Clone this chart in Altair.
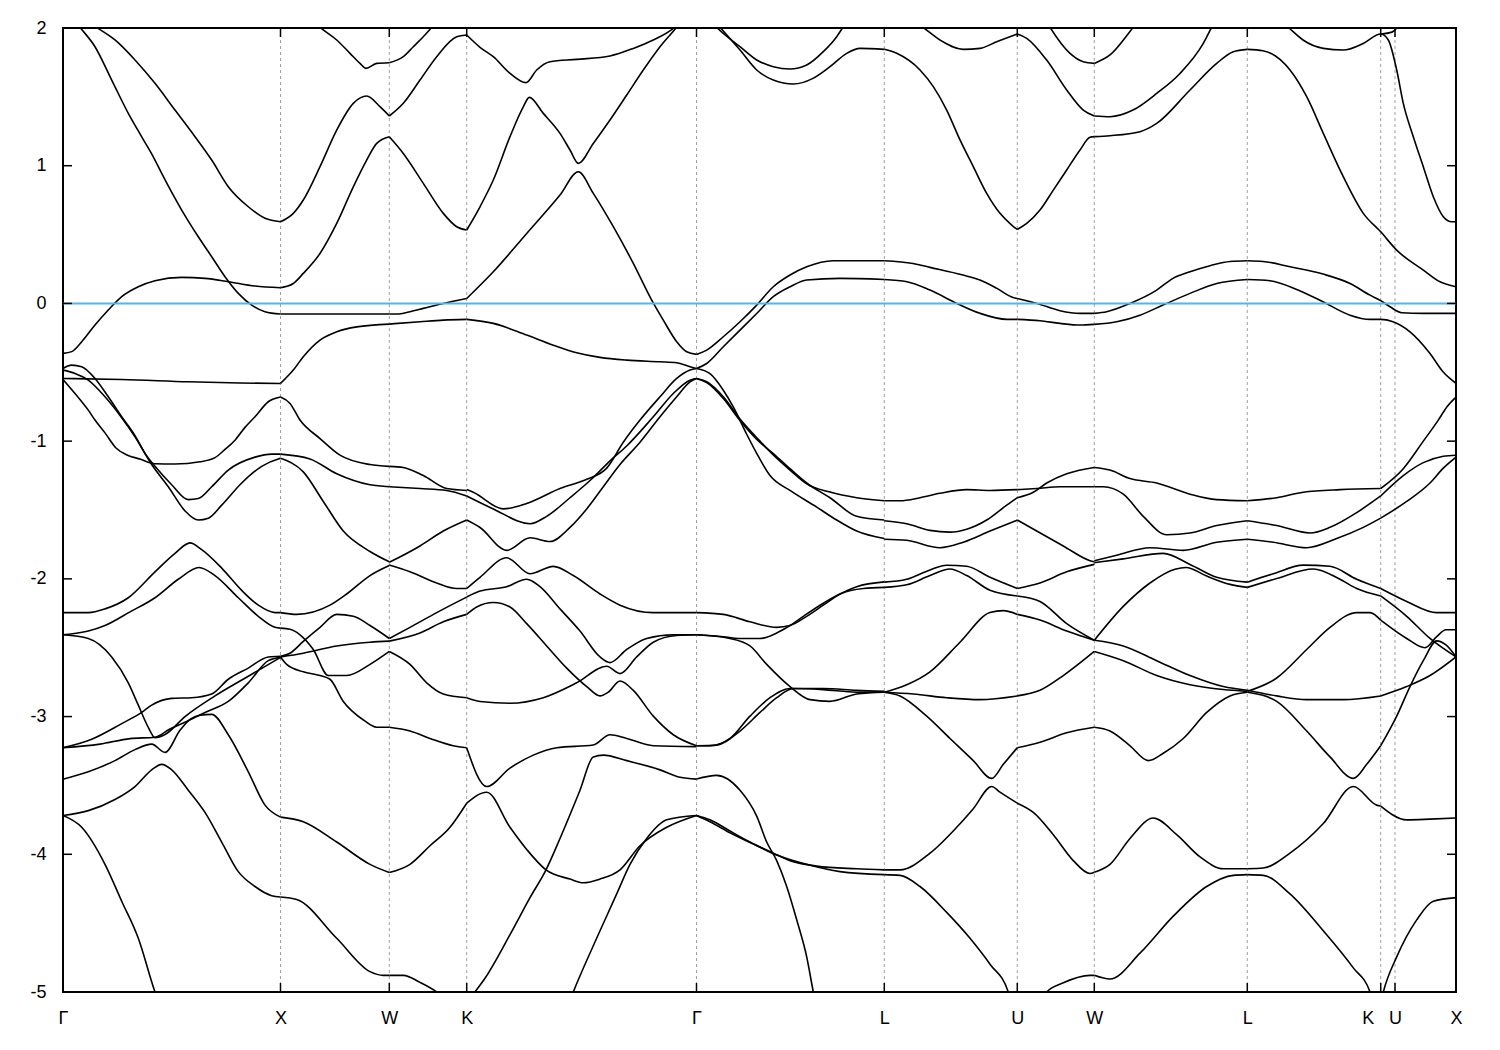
import altair as alt
import pandas as pd

# High-symmetry points along the k-path (path coordinate) and their names
hs_k = [63, 280.5, 389.3, 466.7, 696.5, 884.3, 1017.3, 1094.3, 1247.3, 1380.7, 1395, 1456]
hs_names = ["Γ", "X", "W", "K", "Γ", "L", "U", "W", "L", "K", "U", "X"]
energy_ticks = [-5, -4, -3, -2, -1, 0, 1, 2]
fermi_level = [0.0]

# Band curves (k, E in eV), grouped per path segment
seg_gamma_x = [
    [(63, 2.16), (72, 2.08), (80, 2.005), (95, 1.864), (111.7, 1.622), (128.3, 1.38), (141.7, 1.21), (153.3, 1.065), (161.7, 0.944), (181.7, 0.678), (198.3, 0.484), (211.7, 0.339), (225, 0.194), (238.3, 0.073), (251.7, -0.012), (265, -0.06), (280.5, -0.077)],
    [(63, 2.2), (80, 2.1), (96.7, 2.005), (115, 1.913), (135, 1.768), (155, 1.598), (175, 1.404), (195, 1.211), (211.7, 1.041), (228.3, 0.848), (248.3, 0.702), (265, 0.618), (280.5, 0.593)],
    [(63, -0.363), (71.7, -0.35), (81.7, -0.278), (95, -0.157), (108.3, -0.048), (121.7, 0.049), (138.3, 0.121), (155, 0.165), (181.7, 0.189), (205, 0.182), (228.3, 0.158), (255, 0.126), (280.5, 0.114)],
    [(63, -0.545), (121.7, -0.552), (188.3, -0.569), (240, -0.578), (280.5, -0.581)],
    [(63, -0.552), (75, -0.654), (88.3, -0.775), (95, -0.847), (105, -0.94), (116, -1.05), (127, -1.1), (140, -1.13), (155, -1.164), (175, -1.166), (200, -1.15), (215, -1.12), (225, -1.06), (235, -0.993), (245, -0.9), (255, -0.823), (268.3, -0.714), (280.5, -0.68)],
    [(63, -0.472), (71.7, -0.448), (81.7, -0.46), (95, -0.545), (108.3, -0.678), (121.7, -0.823), (135, -0.96), (145, -1.09), (155, -1.183), (171.7, -1.317), (188.3, -1.425), (198.3, -1.417), (211.7, -1.331), (228.3, -1.21), (255, -1.116), (271.7, -1.094), (280.5, -1.094)],
    [(63, -0.484), (75, -0.508), (88.3, -0.557), (105, -0.678), (121.7, -0.83), (135, -0.968), (151.7, -1.17), (168.3, -1.331), (185, -1.506), (198.3, -1.573), (208.3, -1.56), (221.7, -1.465), (241.7, -1.304), (261.7, -1.183), (278.3, -1.129), (280.5, -1.125)],
    [(63, -2.245), (88.3, -2.245), (105, -2.218), (128.3, -2.137), (155, -1.949), (175, -1.815), (190, -1.739), (201.7, -1.788), (221.7, -1.922), (241.7, -2.084), (258.3, -2.191), (275, -2.245), (280.5, -2.245)],
    [(63, -2.406), (88.3, -2.379), (105, -2.339), (130, -2.24), (155, -2.137), (178.3, -2.003), (199, -1.917), (215, -1.976), (238.3, -2.137), (258.3, -2.272), (275, -2.352), (280.5, -2.358)],
    [(63, -2.406), (88.3, -2.433), (111.7, -2.567), (128.3, -2.755), (138.3, -2.917), (148.3, -3.078), (155, -3.153), (165, -3.13), (185, -3.0), (215, -2.85), (250, -2.7), (280.5, -2.57)],
    [(63, -3.226), (91.7, -3.164), (121.7, -3.051), (141.7, -2.97), (151.7, -2.917), (171.7, -2.868), (191.7, -2.863), (211.7, -2.836), (228.3, -2.729), (248.3, -2.648), (268.3, -2.567), (280.5, -2.562)],
    [(63, -3.226), (100, -3.2), (130, -3.16), (155, -3.15), (170, -3.09), (188.3, -3.03), (205, -2.97), (228.3, -2.89), (248.3, -2.755), (268.3, -2.594), (280.5, -2.57)],
    [(63, -3.455), (88.3, -3.401), (115, -3.32), (135, -3.24), (151.7, -3.2), (165, -3.26), (180, -3.1), (190, -3.02), (200, -2.99), (211.7, -2.984), (228.3, -3.132), (248.3, -3.401), (265, -3.643), (280.5, -3.73)],
    [(63, -3.718), (81.7, -3.804), (105, -4.073), (121.7, -4.341), (138.3, -4.61), (155, -5.0), (160, -5.1)],
    [(63, -3.718), (88.3, -3.683), (115, -3.602), (135, -3.508), (151.7, -3.387), (161.7, -3.347), (171.7, -3.387), (188.3, -3.535), (205, -3.696), (221.7, -3.911), (238.3, -4.126), (255, -4.234), (271.7, -4.301), (280.5, -4.31)],
]

seg_x_w = [
    [(280.5, 2.3), (300, 2.15), (320, 2.005), (336.7, 1.913), (350, 1.816), (360, 1.743), (366, 1.707), (376.7, 1.743), (389.3, 1.748)],
    [(280.5, 0.593), (293.3, 0.654), (303.3, 0.751), (320, 0.993), (336.7, 1.259), (353.3, 1.453), (366.7, 1.506), (380, 1.429), (389.3, 1.361)],
    [(280.5, 0.114), (293.3, 0.145), (303.3, 0.218), (320, 0.363), (336.7, 0.581), (353.3, 0.847), (366.7, 1.041), (376.7, 1.162), (389.3, 1.21)],
    [(280.5, -0.077), (389.3, -0.077)],
    [(280.5, -0.581), (293.3, -0.484), (303.3, -0.387), (320, -0.266), (336.7, -0.206), (356.7, -0.17), (389.3, -0.15)],
    [(280.5, -0.68), (290, -0.726), (300, -0.847), (320, -0.981), (340, -1.102), (370, -1.17), (389.3, -1.183)],
    [(280.5, -1.094), (310, -1.129), (336.7, -1.237), (370, -1.317), (389.3, -1.331)],
    [(280.5, -1.125), (303.3, -1.223), (323.3, -1.438), (343.3, -1.653), (370, -1.801), (389.3, -1.876)],
    [(280.5, -2.245), (296.7, -2.258), (330, -2.191), (346.7, -2.11), (370, -1.976), (389.3, -1.903)],
    [(280.5, -2.358), (290, -2.366), (300, -2.406), (313.3, -2.513), (328.3, -2.702), (346.7, -2.702), (370, -2.621), (389.3, -2.527)],
    [(280.5, -2.562), (290, -2.54), (303.3, -2.454), (320, -2.352), (336.7, -2.258), (353.3, -2.272), (370, -2.339), (389.3, -2.433)],
    [(280.5, -2.567), (303.3, -2.54), (336.7, -2.487), (370, -2.46), (389.3, -2.452)],
    [(280.5, -2.567), (286.7, -2.621), (303.3, -2.675), (320, -2.702), (330, -2.729), (343.3, -2.89), (363.3, -3.024), (376.7, -3.078), (389.3, -3.078)],
    [(280.5, -3.73), (303.3, -3.763), (336.7, -3.911), (370, -4.073), (389.3, -4.132)],
    [(280.5, -4.31), (296.7, -4.328), (336.7, -4.61), (370, -4.852), (383.3, -4.879), (389.3, -4.879)],
]

seg_w_k = [
    [(389.3, 1.748), (403.3, 1.792), (413.3, 1.864), (423.3, 1.937), (431.7, 2.005), (445, 2.15), (466.7, 2.3)],
    [(389.3, 1.361), (403.3, 1.453), (420, 1.622), (436.7, 1.792), (456.7, 1.937), (466.7, 1.949)],
    [(389.3, 1.21), (403.3, 1.089), (423.3, 0.872), (443.3, 0.654), (456.7, 0.557), (466.7, 0.533)],
    [(389.3, -0.077), (396.7, -0.077), (410, -0.06), (423.3, -0.036), (443.3, 0.0), (466.7, 0.036)],
    [(389.3, -0.15), (420, -0.133), (443.3, -0.121), (466.7, -0.116)],
    [(389.3, -1.183), (403.3, -1.191), (423.3, -1.25), (446.7, -1.344), (466.7, -1.358)],
    [(389.3, -1.331), (420, -1.344), (446.7, -1.358), (466.7, -1.398)],
    [(389.3, -1.88), (420, -1.761), (443.3, -1.653), (466.7, -1.573)],
    [(389.3, -1.9), (410, -1.949), (436.7, -2.03), (456.7, -2.07), (466.7, -2.07)],
    [(389.3, -2.433), (410, -2.352), (436.7, -2.245), (466.7, -2.132)],
    [(389.3, -2.452), (420, -2.393), (443.3, -2.312), (466.7, -2.258)],
    [(389.3, -2.527), (410, -2.621), (426.7, -2.755), (443.3, -2.836), (466.7, -2.863)],
    [(389.3, -3.078), (410, -3.105), (430, -3.159), (453.3, -3.212), (466.7, -3.226)],
    [(389.3, -4.132), (410, -4.073), (430, -3.938), (450, -3.804), (466.7, -3.629)],
    [(389.3, -4.879), (403.3, -4.879), (420, -4.93), (436.7, -5.0), (445, -5.05)],
]

seg_k_gamma = [
    [(466.7, 1.949), (480, 1.86), (493.3, 1.792), (510, 1.671), (526, 1.603), (536.7, 1.695), (550, 1.755), (576.7, 1.772), (610, 1.797), (633.3, 1.852), (653.3, 1.913), (673.3, 1.997), (685, 2.08), (696.5, 2.2)],
    [(466.7, 0.533), (480, 0.702), (493.3, 0.896), (510, 1.211), (523.3, 1.428), (529.3, 1.496), (543.3, 1.38), (560, 1.235), (570, 1.114), (578.3, 1.017), (593.3, 1.162), (610, 1.332), (626.7, 1.513), (643.3, 1.695), (660, 1.864), (676, 2.0), (696.5, 2.2)],
    [(466.7, 0.036), (493.3, 0.23), (526.7, 0.508), (560, 0.787), (578.3, 0.956), (593.3, 0.799), (613.3, 0.557), (633.3, 0.291), (651.7, 0.024), (663.3, -0.121), (676.7, -0.278), (686.7, -0.351), (696.5, -0.37)],
    [(466.7, -0.116), (493.3, -0.145), (526.7, -0.23), (553.3, -0.303), (576.7, -0.358), (600, -0.392), (626.7, -0.412), (660, -0.424), (676.7, -0.431), (690, -0.46), (696.5, -0.472)],
    [(466.7, -1.352), (473.3, -1.371), (503.3, -1.492), (526.7, -1.452), (560, -1.344), (586.7, -1.277), (606.7, -1.196), (623.3, -1.008), (640, -0.847), (660, -0.678), (676.7, -0.545), (690, -0.484), (696.5, -0.472)],
    [(466.7, -1.398), (493.3, -1.492), (530, -1.6), (546.7, -1.546), (570, -1.411), (593.3, -1.264), (610, -1.143), (626.7, -1.035), (653.3, -0.823), (673.3, -0.654), (690, -0.557), (696.5, -0.545)],
    [(466.7, -1.573), (480, -1.627), (506.7, -1.793), (530, -1.702), (550, -1.729), (570, -1.626), (586.7, -1.492), (603.3, -1.331), (620, -1.17), (640, -1.008), (660, -0.823), (676.7, -0.678), (690, -0.569), (696.5, -0.545)],
    [(466.7, -2.07), (480, -1.989), (506.7, -1.847), (530, -1.963), (553.3, -1.909), (573.3, -1.976), (600, -2.11), (620, -2.191), (653.3, -2.245), (696.5, -2.245)],
    [(466.7, -2.132), (480, -2.089), (506.7, -2.057), (526.7, -2.003), (540, -2.057), (560, -2.218), (580, -2.379), (600, -2.567), (610, -2.608), (626.7, -2.513), (646.7, -2.433), (673.3, -2.406), (696.5, -2.406)],
    [(466.7, -2.258), (476.7, -2.204), (493.3, -2.172), (510, -2.204), (526.7, -2.325), (546.7, -2.487), (566.7, -2.648), (586.7, -2.782), (600, -2.85), (608.3, -2.823), (620, -2.742), (633.3, -2.81), (653.3, -2.997), (673.3, -3.132), (696.5, -3.212)],
    [(466.7, -2.863), (480, -2.89), (510, -2.903), (543.3, -2.863), (576.7, -2.755), (606.7, -2.635), (620, -2.688), (636.7, -2.567), (653.3, -2.46), (676.7, -2.411), (696.5, -2.406)],
    [(466.7, -3.226), (486.7, -3.508), (510, -3.374), (533.3, -3.28), (556.7, -3.226), (593.3, -3.207), (610, -3.132), (626.7, -3.159), (653.3, -3.212), (696.5, -3.218)],
    [(466.7, -3.629), (486.7, -3.549), (510, -3.804), (526.7, -3.965), (546, -4.113), (570, -4.18), (583.3, -4.207), (600, -4.18), (620, -4.113), (640, -3.938), (666.7, -3.804), (696.5, -3.718)],
    [(466, -5.1), (475, -5.0), (485, -4.9), (510, -4.583), (530, -4.315), (546, -4.113), (560, -3.885), (580, -3.535), (593.3, -3.293), (603.3, -3.28), (626.7, -3.32), (660, -3.387), (680, -3.441), (696.5, -3.454)],
    [(568, -5.1), (573.3, -5.0), (593.3, -4.664), (616.7, -4.288), (630, -4.073), (646.7, -3.885), (666.7, -3.75), (696.5, -3.718)],
]

seg_gamma_l = [
    [(696.5, 2.2), (705, 2.1), (716.7, 2.005), (740, 1.864), (756.7, 1.768), (773.3, 1.719), (790, 1.702), (806.7, 1.731), (823.3, 1.828), (836.7, 1.937), (843, 2.005), (860, 2.15), (884.3, 2.25)],
    [(696.5, 2.2), (708, 2.1), (720, 2.005), (740, 1.84), (756.7, 1.695), (773.3, 1.622), (793.3, 1.593), (813, 1.634), (830, 1.719), (846.7, 1.816), (860, 1.852), (884.3, 1.845)],
    [(696.5, -0.37), (706.7, -0.339), (723.3, -0.242), (740, -0.133), (756.7, -0.012), (773.3, 0.121), (790, 0.206), (806.7, 0.266), (833.3, 0.31), (884.3, 0.31)],
    [(696.5, -0.472), (706.7, -0.436), (723.3, -0.315), (740, -0.194), (756.7, -0.073), (773.3, 0.049), (790, 0.121), (806.7, 0.17), (840, 0.182), (884.3, 0.174)],
    [(696.5, -0.472), (710, -0.51), (723.3, -0.63), (733.3, -0.751), (746.7, -0.95), (756.7, -1.089), (770, -1.25), (790, -1.358), (816.7, -1.479), (836.7, -1.573), (856.7, -1.653), (884.3, -1.707)],
    [(696.5, -0.545), (706.7, -0.569), (723.3, -0.678), (740, -0.84), (760, -1.0), (773.3, -1.1), (790, -1.21), (806.7, -1.31), (830, -1.37), (856.7, -1.411), (884.3, -1.433)],
    [(696.5, -0.545), (706.7, -0.575), (723.3, -0.69), (740, -0.85), (760, -1.01), (773.3, -1.09), (790, -1.2), (806.7, -1.304), (830, -1.411), (856.7, -1.546), (884.3, -1.573)],
    [(696.5, -2.245), (723.3, -2.258), (750, -2.312), (776.7, -2.352), (790, -2.339), (806.7, -2.272), (823.3, -2.191), (840, -2.11), (856.7, -2.057), (884.3, -2.022)],
    [(696.5, -2.406), (723.3, -2.42), (740, -2.433), (760, -2.433), (776.7, -2.393), (790, -2.339), (803.3, -2.272), (823.3, -2.177), (840, -2.11), (863.3, -2.07), (884.3, -2.062)],
    [(696.5, -2.406), (730, -2.433), (750, -2.487), (766.7, -2.621), (790, -2.782), (810, -2.877), (830, -2.89), (856.7, -2.836), (884.3, -2.823)],
    [(696.5, -3.212), (710, -3.212), (730, -3.159), (750, -2.997), (770, -2.863), (790, -2.796), (823.3, -2.804), (856.7, -2.823), (884.3, -2.823)],
    [(696.5, -3.212), (716.7, -3.207), (740, -3.105), (760, -2.97), (776.7, -2.863), (793.3, -2.796), (823.3, -2.796), (856.7, -2.81), (884.3, -2.817)],
    [(696.5, -3.454), (716.7, -3.427), (740, -3.535), (756.7, -3.723), (766.7, -3.911), (776.7, -4.046), (786.7, -4.234), (796.7, -4.476), (806.7, -4.745), (813.3, -5.0), (816, -5.1)],
    [(696.5, -3.718), (710, -3.75), (730, -3.831), (750, -3.911), (773.3, -3.992), (790, -4.046), (816.7, -4.086), (856.7, -4.105), (884.3, -4.113)],
    [(696.5, -3.718), (710, -3.764), (730, -3.844), (756.7, -3.938), (776.7, -4.005), (806.7, -4.073), (840, -4.126), (884.3, -4.148)],
]

seg_l_u = [
    [(884.3, 1.845), (896.7, 1.816), (920, 1.695), (933.3, 1.574), (946.7, 1.404), (960, 1.187), (973.3, 0.993), (986.7, 0.799), (1000, 0.654), (1011.7, 0.569), (1017.3, 0.537)],
    [(884.3, 2.25), (905, 2.1), (923, 2.005), (940, 1.913), (963.3, 1.845), (980, 1.852), (996.7, 1.9), (1017.3, 1.956)],
    [(884.3, 0.31), (913, 0.29), (930, 0.262), (963, 0.206), (980, 0.17), (997, 0.109), (1013, 0.043), (1017.3, 0.036)],
    [(884.3, 0.174), (907, 0.158), (930, 0.097), (957, 0.0), (980, -0.072), (1007, -0.116), (1017.3, -0.116)],
    [(884.3, -1.433), (900, -1.433), (920, -1.411), (940, -1.379), (966.7, -1.352), (990, -1.358), (1017.3, -1.352)],
    [(884.3, -1.578), (906.7, -1.6), (930, -1.648), (950, -1.661), (966.7, -1.64), (986.7, -1.573), (1006.7, -1.465), (1017.3, -1.411)],
    [(884.3, -1.712), (906.7, -1.72), (940, -1.774), (963.3, -1.734), (990, -1.653), (1017.3, -1.573)],
    [(884.3, -2.024), (906.7, -2.003), (930, -1.935), (946.7, -1.901), (966.7, -1.909), (990, -1.989), (1017.3, -2.07)],
    [(884.3, -2.062), (906.7, -2.043), (930, -1.976), (950, -1.928), (966.7, -1.976), (990, -2.083), (1017.3, -2.124)],
    [(884.3, -2.823), (906.7, -2.769), (930, -2.675), (960, -2.46), (990, -2.245), (1003.3, -2.231), (1017.3, -2.258)],
    [(884.3, -2.823), (913.3, -2.836), (946.7, -2.863), (980, -2.877), (1017.3, -2.85)],
    [(884.3, -2.823), (900, -2.85), (926.7, -2.997), (950, -3.159), (973.3, -3.32), (991.7, -3.449), (1003.3, -3.347), (1017.3, -3.226)],
    [(884.3, -4.113), (900, -4.113), (930, -3.992), (956.7, -3.804), (973.3, -3.669), (991.7, -3.508), (1000, -3.549), (1017.3, -3.629)],
    [(884.3, -4.148), (900, -4.153), (920, -4.234), (946.7, -4.422), (970, -4.61), (990, -4.798), (1008.3, -5.0), (1012, -5.1)],
]

seg_u_w = [
    [(1017.3, 0.537), (1026.7, 0.581), (1040, 0.678), (1053.3, 0.823), (1066.7, 0.969), (1080, 1.114), (1090, 1.206), (1094.3, 1.211)],
    [(1017.3, 1.956), (1026.7, 1.925), (1046.7, 1.767), (1066.7, 1.55), (1083.3, 1.404), (1094.3, 1.361)],
    [(1017.3, 2.35), (1035, 2.2), (1050, 2.005), (1070, 1.816), (1083.3, 1.755), (1094.3, 1.743)],
    [(1017.3, 0.036), (1037, 0.0), (1060, -0.053), (1080, -0.072), (1094.3, -0.072)],
    [(1017.3, -0.116), (1040, -0.126), (1060, -0.145), (1080, -0.157), (1094.3, -0.152)],
    [(1017.3, -1.352), (1036.7, -1.344), (1060, -1.331), (1094.3, -1.331)],
    [(1017.3, -1.411), (1033.3, -1.371), (1046.7, -1.304), (1066.7, -1.237), (1094.3, -1.191)],
    [(1017.3, -1.573), (1036.7, -1.653), (1063.3, -1.761), (1090, -1.868), (1094.3, -1.876)],
    [(1017.3, -2.07), (1040, -2.03), (1066.7, -1.949), (1094.3, -1.895)],
    [(1017.3, -2.124), (1040, -2.164), (1066.7, -2.325), (1094.3, -2.446)],
    [(1017.3, -2.258), (1040, -2.299), (1066.7, -2.379), (1094.3, -2.446)],
    [(1017.3, -2.85), (1040, -2.809), (1063.3, -2.702), (1094.3, -2.527)],
    [(1017.3, -3.226), (1040, -3.186), (1066.7, -3.118), (1094.3, -3.078)],
    [(1017.3, -3.629), (1033.3, -3.696), (1053.3, -3.858), (1073.3, -4.046), (1090, -4.14), (1094.3, -4.13)],
    [(1040, -5.1), (1046.7, -5.0), (1063.3, -4.933), (1090, -4.879), (1094.3, -4.879)],
]

seg_w_l = [
    [(1094.3, 1.743), (1110, 1.804), (1133.3, 2.005), (1160, 2.25)],
    [(1094.3, 1.361), (1110, 1.356), (1133, 1.404), (1156.7, 1.525), (1180, 1.67), (1203.3, 1.888), (1211.7, 2.005), (1230, 2.2)],
    [(1094.3, 1.211), (1110, 1.218), (1140, 1.247), (1156.7, 1.307), (1190, 1.55), (1216.7, 1.743), (1233.3, 1.828), (1247.3, 1.845)],
    [(1094.3, -0.072), (1106.7, -0.06), (1130, 0.0), (1156.7, 0.097), (1173, 0.182), (1190, 0.23), (1210, 0.274), (1230, 0.305), (1247.3, 0.31)],
    [(1094.3, -0.152), (1116.7, -0.133), (1140, -0.085), (1163, -0.012), (1190, 0.073), (1216.7, 0.145), (1247.3, 0.174)],
    [(1094.3, -1.191), (1110, -1.21), (1130, -1.272), (1156.7, -1.304), (1190, -1.385), (1216.7, -1.425), (1247.3, -1.433)],
    [(1094.3, -1.331), (1103.3, -1.331), (1123.3, -1.385), (1143.3, -1.546), (1166.7, -1.68), (1190, -1.667), (1216.7, -1.613), (1247.3, -1.578)],
    [(1094.3, -1.868), (1116.7, -1.828), (1150, -1.774), (1183.3, -1.793), (1216.7, -1.734), (1247.3, -1.712)],
    [(1094.3, -1.882), (1123.3, -1.855), (1163.3, -1.815), (1190, -1.895), (1216.7, -1.989), (1247.3, -2.024)],
    [(1094.3, -2.446), (1123.3, -2.2), (1150, -2.03), (1175, -1.93), (1186, -1.917), (1206.7, -1.98), (1230, -2.04), (1247.3, -2.062)],
    [(1094.3, -2.446), (1123.3, -2.487), (1156.7, -2.594), (1190, -2.702), (1223.3, -2.782), (1247.3, -2.809)],
    [(1094.3, -2.527), (1123.3, -2.594), (1156.7, -2.702), (1190, -2.769), (1223.3, -2.804), (1247.3, -2.817)],
    [(1094.3, -3.078), (1110, -3.105), (1130, -3.212), (1148.3, -3.32), (1163.3, -3.266), (1183.3, -3.159), (1206.7, -2.97), (1230, -2.85), (1247.3, -2.823)],
    [(1094.3, -4.13), (1110, -4.073), (1130, -3.885), (1153.3, -3.737), (1176.7, -3.858), (1200, -4.019), (1223.3, -4.105), (1247.3, -4.105)],
    [(1094.3, -4.879), (1110, -4.906), (1140, -4.718), (1173.3, -4.449), (1206.7, -4.234), (1233.3, -4.153), (1247.3, -4.148)],
]

seg_l_x_upper = [
    [(1247.3, 1.845), (1263, 1.835), (1290, 1.695), (1306.7, 1.501), (1323.3, 1.235), (1343.3, 0.92), (1363.3, 0.654), (1380.7, 0.52), (1396.7, 0.387), (1423.3, 0.242), (1440, 0.157), (1456, 0.121)],
    [(1247.3, 2.3), (1270, 2.12), (1288.3, 2.005), (1303, 1.913), (1323.3, 1.852), (1343.3, 1.84), (1363.3, 1.888), (1380.7, 1.956), (1388.3, 1.913), (1396.7, 1.695), (1403.3, 1.453), (1413.3, 1.211), (1423.3, 0.993), (1433.3, 0.775), (1443.3, 0.63), (1451.7, 0.593), (1456, 0.593)],
    [(1380.7, 1.956), (1392, 1.97), (1402, 2.05)],
    [(1247.3, 0.31), (1263, 0.305), (1290, 0.266), (1323, 0.213), (1350, 0.145), (1370, 0.06), (1380.7, 0.02), (1390, -0.024), (1401.7, -0.068), (1423, -0.072), (1456, -0.072)],
    [(1247.3, 0.174), (1270, 0.165), (1296.7, 0.102), (1323, 0.012), (1350, -0.085), (1370, -0.116), (1380.7, -0.116), (1393, -0.133), (1410, -0.206), (1430, -0.363), (1443, -0.496), (1456, -0.58)],
]

seg_l_k = [
    [(1247.3, -1.433), (1276.7, -1.411), (1303.3, -1.371), (1340, -1.352), (1380.7, -1.344)],
    [(1247.3, -1.578), (1276.7, -1.613), (1310, -1.667), (1330, -1.626), (1356.7, -1.519), (1380.7, -1.398)],
    [(1247.3, -1.712), (1273.3, -1.734), (1306.7, -1.774), (1336.7, -1.707), (1363.3, -1.626), (1380.7, -1.559)],
    [(1247.3, -2.024), (1273.3, -1.963), (1303.3, -1.9), (1330, -1.909), (1356.7, -2.003), (1380.7, -2.07)],
    [(1247.3, -2.062), (1276.7, -1.997), (1313.3, -1.928), (1340, -2.003), (1356.7, -2.07), (1380.7, -2.124)],
    [(1247.3, -2.809), (1276.7, -2.85), (1306.7, -2.877), (1343.3, -2.877), (1380.7, -2.85)],
    [(1247.3, -2.817), (1276.7, -2.72), (1306.7, -2.513), (1330, -2.352), (1356.7, -2.245), (1370, -2.245), (1380.7, -2.3)],
    [(1247.3, -2.823), (1276.7, -2.89), (1306.7, -3.105), (1330, -3.293), (1353.3, -3.449), (1366.7, -3.347), (1380.7, -3.212)],
    [(1247.3, -4.105), (1263.3, -4.1), (1290, -3.992), (1323.3, -3.777), (1353.3, -3.508), (1376.7, -3.643), (1380.7, -3.65)],
    [(1247.3, -4.148), (1263.3, -4.153), (1290, -4.288), (1323.3, -4.556), (1353.3, -4.825), (1370, -5.0), (1374, -5.1)],
]

seg_k_x = [
    [(1380.7, -1.344), (1403.3, -1.2), (1423.3, -1.0), (1438.3, -0.847), (1447, -0.75), (1456, -0.68)],
    [(1380.7, -1.398), (1403.3, -1.25), (1423.3, -1.156), (1443.3, -1.11), (1456, -1.102)],
    [(1380.7, -1.559), (1406.7, -1.438), (1430, -1.304), (1443.3, -1.196), (1456, -1.116)],
    [(1380.7, -2.07), (1406.7, -2.164), (1436.7, -2.245), (1456, -2.245)],
    [(1380.7, -2.124), (1406.7, -2.272), (1430, -2.433), (1456, -2.567)],
    [(1380.7, -2.3), (1406.7, -2.433), (1425, -2.5), (1436.7, -2.42), (1446, -2.37), (1456, -2.37)],
    [(1380.7, -2.85), (1406.7, -2.782), (1430, -2.702), (1456, -2.567)],
    [(1380.7, -3.212), (1396.7, -2.997), (1410, -2.782), (1423.3, -2.594), (1436.7, -2.45), (1446, -2.48), (1456, -2.567)],
    [(1380.7, -3.65), (1406.7, -3.75), (1430, -3.745), (1456, -3.737)],
    [(1380, -5.1), (1383.3, -5.0), (1396.7, -4.745), (1416.7, -4.476), (1433.3, -4.341), (1456, -4.315)],
]

segments = [seg_gamma_x, seg_x_w, seg_w_k, seg_k_gamma, seg_gamma_l, seg_l_u,
            seg_u_w, seg_w_l, seg_l_x_upper, seg_l_k, seg_k_x]

rows = []
for si, seg in enumerate(segments):
    for ci, curve in enumerate(seg):
        for k, e in curve:
            rows.append({"k": k, "E": e, "curve": f"{si}_{ci}"})
bands = pd.DataFrame(rows)

W, H = 1393, 964
xscale = alt.Scale(domain=[hs_k[0], hs_k[-1]], nice=False, zero=False)
yscale = alt.Scale(domain=[-5, 2], nice=False, zero=False)

label_expr = " : ".join(
    f"abs(datum.value - {k}) < 0.5 ? '{n}'" for k, n in zip(hs_k, hs_names)
) + " : ''"

font = "Liberation Sans"
x_axis = alt.Axis(values=hs_k, labelExpr=label_expr, title=None, domain=False,
                  ticks=False, grid=False, labelFont=font, labelFontSize=18,
                  labelColor="black", labelPadding=17, labelFlush=False,
                  labelOverlap=False,
                  labelOffset={"condition": {"test": "abs(datum.value - 1380.7) < 0.5",
                                             "value": -13},
                               "value": 0})
y_axis = alt.Axis(values=energy_ticks, labelExpr="datum.value + ''", title=None,
                  domain=False, ticks=False, grid=False, labelFont=font,
                  labelFontSize=18, labelColor="black", labelPadding=17,
                  labelFlush=False, labelOverlap=False)

X = lambda field: alt.X(field, scale=xscale, axis=x_axis)
Y = lambda field: alt.Y(field, scale=yscale, axis=y_axis)

grid = alt.Chart(pd.DataFrame({"k": hs_k[1:-1]})).mark_rule(
    color="#a0a0a0", strokeDash=[3, 3], strokeWidth=1
).encode(x=X("k:Q"))

lines = alt.Chart(bands).mark_line(
    color="black", strokeWidth=1.6, interpolate="monotone", clip=True
).encode(x=X("k:Q"), y=Y("E:Q"), detail="curve:N")

zero = alt.Chart(pd.DataFrame({"E": fermi_level})).mark_rule(
    color="#56b4e9", strokeWidth=2
).encode(y=Y("E:Q"))

yt = pd.DataFrame({"E": energy_ticks})
xt = pd.DataFrame({"k": hs_k})
tick_style = dict(color="black", strokeWidth=1.5)
ytick_l = alt.Chart(yt).mark_rule(**tick_style).encode(
    y=Y("E:Q"), x=alt.value(0), x2=alt.value(9))
ytick_r = alt.Chart(yt).mark_rule(**tick_style).encode(
    y=Y("E:Q"), x=alt.value(W - 9), x2=alt.value(W))
xtick_b = alt.Chart(xt).mark_rule(**tick_style).encode(
    x=X("k:Q"), y=alt.value(H - 9), y2=alt.value(H))
xtick_t = alt.Chart(xt).mark_rule(**tick_style).encode(
    x=X("k:Q"), y=alt.value(0), y2=alt.value(9))

chart = alt.layer(grid, lines, zero, ytick_l, ytick_r, xtick_b, xtick_t).properties(
    width=W, height=H,
    autosize=alt.AutoSizeParams(type="none"),
    padding={"left": 55, "top": 20, "right": 30, "bottom": 50},
).configure_view(stroke="black", strokeWidth=2)

chart.save("out.html", embed_options={"renderer": "svg", "actions": False})
